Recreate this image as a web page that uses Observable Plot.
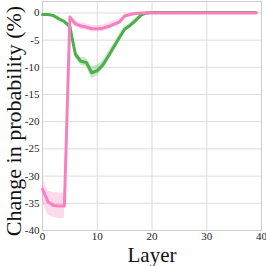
<!DOCTYPE html>
<html>
<head>
<meta charset="utf-8">
<script src="https://cdn.jsdelivr.net/npm/d3@7"></script>
<script src="https://cdn.jsdelivr.net/npm/@observablehq/plot@0.6"></script>
<style>
  html, body { margin: 0; padding: 0; background: #fff; }
  svg, svg text { font-family: "Liberation Serif", "Times New Roman", serif !important; }
</style>
</head>
<body>
<div id="chart"></div>
<script>
const layers = [0,1,2,3,4,5,6,7,8,9,10,11,12,13,14,15,16,17,18,19,20,21,22,23,24,25,26,27,28,29,30,31,32,33,34,35,36,37,38,39];

const greenMean = [-0.3,-0.3,-0.5,-1.1,-1.6,-2.5,-7.6,-8.9,-9.1,-11.0,-10.6,-9.6,-8.0,-6.3,-4.6,-3.0,-2.3,-1.4,-0.4,0.0,
  0.1,0.1,0.1,0.1,0.1,0.1,0.1,0.1,0.1,0.1,0.1,0.1,0.1,0.1,0.1,0.1,0.1,0.1,0.1,0.1];
const greenLo = [-0.5,-0.5,-0.7,-1.3,-1.9,-2.9,-8.3,-9.6,-9.9,-12.1,-11.6,-10.4,-8.8,-7.0,-5.3,-3.5,-2.7,-1.8,-0.7,-0.2,
  -0.05,-0.05,-0.05,-0.05,-0.05,-0.05,-0.05,-0.05,-0.05,-0.05,-0.05,-0.05,-0.05,-0.05,-0.05,-0.05,-0.05,-0.05,-0.05,-0.05];
const greenHi = [-0.1,-0.1,-0.3,-0.9,-1.3,-2.1,-6.9,-8.2,-8.3,-9.9,-9.6,-8.8,-7.2,-5.6,-3.9,-2.5,-1.9,-1.0,-0.1,0.2,
  0.25,0.25,0.25,0.25,0.25,0.25,0.25,0.25,0.25,0.25,0.25,0.25,0.25,0.25,0.25,0.25,0.25,0.25,0.25,0.25];

const pinkMean = [-32.4,-34.7,-35.4,-35.5,-35.5,-0.8,-2.0,-2.4,-2.6,-2.9,-2.9,-2.8,-2.5,-2.1,-1.7,-0.6,-0.3,-0.1,
  0,0,0,0,0,0,0,0,0,0,0,0,0,0,0,0,0,0,0,0,0,0];
const pinkLo = [-34.8,-37.1,-37.6,-37.8,-37.8,-1.3,-2.6,-3.0,-3.2,-3.5,-3.5,-3.4,-3.1,-2.7,-2.2,-1.0,-0.6,-0.3,
  -0.15,-0.15,-0.15,-0.15,-0.15,-0.15,-0.15,-0.15,-0.15,-0.15,-0.15,-0.15,-0.15,-0.15,-0.15,-0.15,-0.15,-0.15,-0.15,-0.15,-0.15,-0.15];
const pinkHi = [-30.4,-32.8,-33.0,-33.1,-33.1,-0.3,-1.4,-1.8,-2.0,-2.3,-2.3,-2.2,-1.9,-1.5,-1.2,-0.2,0.0,0.1,
  0.15,0.15,0.15,0.15,0.15,0.15,0.15,0.15,0.15,0.15,0.15,0.15,0.15,0.15,0.15,0.15,0.15,0.15,0.15,0.15,0.15,0.15];

const xTicks = [0, 10, 20, 30, 40];
const yTicks = [0, -5, -10, -15, -20, -25, -30, -35, -40];
const xLabel = "Layer";
const yLabel = "Change in probability (%)";

const greenColor = "#4daf4a";
const pinkColor = "#f781bf";
const font = "Liberation Serif";

const green = layers.map((l, i) => ({layer: l, mean: greenMean[i], lo: greenLo[i], hi: greenHi[i]}));
const pink = layers.map((l, i) => ({layer: l, mean: pinkMean[i], lo: pinkLo[i], hi: pinkHi[i]}));

const chart = Plot.plot({
  width: 266,
  height: 266,
  marginLeft: 42,
  marginRight: 5,
  marginTop: 1,
  marginBottom: 36,
  style: {fontFamily: font, fontSize: "11px", background: "#fff", color: "#222"},
  x: {domain: [0, 40]},
  y: {domain: [-40, 2.1]},
  marks: [
    Plot.gridX(xTicks, {stroke: "#dcdcdc", strokeOpacity: 1, strokeWidth: 1}),
    Plot.gridY(yTicks, {stroke: "#dcdcdc", strokeOpacity: 1, strokeWidth: 1}),
    Plot.frame({stroke: "#cfcfcf", strokeWidth: 1}),
    Plot.areaY(green, {x: "layer", y1: "lo", y2: "hi", fill: greenColor, fillOpacity: 0.3}),
    Plot.lineY(green, {x: "layer", y: "mean", stroke: greenColor, strokeWidth: 3}),
    Plot.areaY(pink, {x: "layer", y1: "lo", y2: "hi", fill: pinkColor, fillOpacity: 0.3}),
    Plot.lineY(pink, {x: "layer", y: "mean", stroke: pinkColor, strokeWidth: 3}),
    Plot.axisX(xTicks, {tickSize: 0, tickPadding: 2, label: null, tickFormat: d => String(d), fontSize: 11, fontFamily: font}),
    Plot.axisY(yTicks, {tickSize: 0, tickPadding: 3, label: null, tickFormat: d => String(d), fontSize: 11, fontFamily: font}),
    Plot.text([xLabel], {frameAnchor: "bottom", lineAnchor: "middle", textAnchor: "middle", dy: 25, fontSize: 21, fill: "#111", fontFamily: font}),
    Plot.text([yLabel], {frameAnchor: "left", lineAnchor: "middle", textAnchor: "middle", rotate: -90, dx: -29, dy: 5, fontSize: 22, fill: "#111", fontFamily: font})
  ]
});
document.getElementById("chart").appendChild(chart);
</script>
</body>
</html>
